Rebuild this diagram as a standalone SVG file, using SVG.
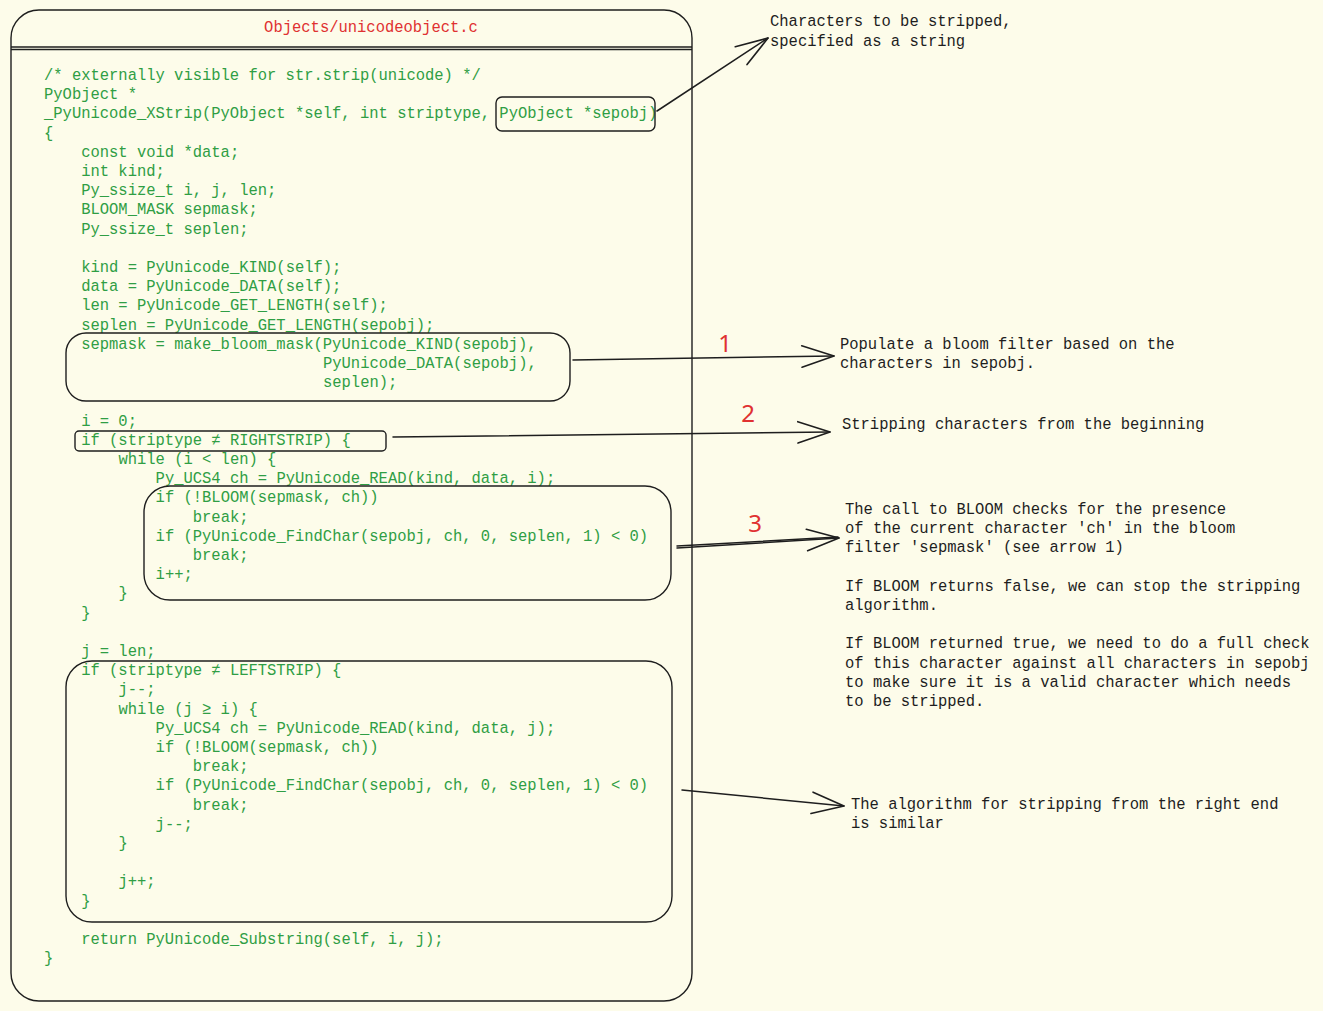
<svg xmlns="http://www.w3.org/2000/svg" width="1323" height="1011" viewBox="0 0 1323 1011">
<style>
.code{font-family:"Liberation Mono","DejaVu Sans Mono",monospace;font-size:17px;fill:#2f9e44;white-space:pre}
.note{font-family:"Liberation Mono","DejaVu Sans Mono",monospace;font-size:17px;fill:#1e1e1e;white-space:pre}
.title{font-family:"Liberation Mono","DejaVu Sans Mono",monospace;font-size:17px;fill:#e03131}
.num{font-family:"Noto Sans","Liberation Sans",sans-serif;font-size:24px;fill:#e03131}
.box{fill:none;stroke:#1e1e1e;stroke-width:1.4}
.conn{fill:none;stroke:#1e1e1e;stroke-width:1.5;stroke-linecap:round}
</style>
<defs>
<marker id="open" markerUnits="userSpaceOnUse" markerWidth="40" markerHeight="30" viewBox="-32 -14 36 28" refX="0" refY="0" orient="auto">
<path d="M-30,-10 L0,0 L-30,10" fill="none" stroke="#1e1e1e" stroke-width="1.5" stroke-linecap="round" stroke-linejoin="round"/>
</marker>
</defs>
<rect width="1323" height="1011" fill="#fdfcea"/>

<g id="file-box">
<rect class="box" x="11" y="10" width="681" height="991" rx="28"/>
<line class="box" x1="11" y1="47" x2="692" y2="47"/>
<line class="box" x1="11" y1="49.5" x2="692" y2="49.5" stroke-width="0.8"/>
<text class="title" transform="scale(0.912 1)" x="406.8" y="32" text-anchor="middle">Objects/unicodeobject.c</text>
</g>

<g id="code" transform="scale(0.912 1)">
<text class="code" x="48.25" y="80">/* externally visible for str.strip(unicode) */</text>
<text class="code" x="48.25" y="99.2">PyObject *</text>
<text class="code" x="48.25" y="118.4">_PyUnicode_XStrip(PyObject *self, int striptype, PyObject *sepobj)</text>
<text class="code" x="48.25" y="137.6">{</text>
<text class="code" x="89.04" y="156.8">const void *data;</text>
<text class="code" x="89.04" y="176">int kind;</text>
<text class="code" x="89.04" y="195.2">Py_ssize_t i, j, len;</text>
<text class="code" x="89.04" y="214.4">BLOOM_MASK sepmask;</text>
<text class="code" x="89.04" y="233.6">Py_ssize_t seplen;</text>
<text class="code" x="89.04" y="272">kind = PyUnicode_KIND(self);</text>
<text class="code" x="89.04" y="291.2">data = PyUnicode_DATA(self);</text>
<text class="code" x="89.04" y="310.4">len = PyUnicode_GET_LENGTH(self);</text>
<text class="code" x="89.04" y="329.6">seplen = PyUnicode_GET_LENGTH(sepobj);</text>
<text class="code" x="89.04" y="348.8">sepmask = make_bloom_mask(PyUnicode_KIND(sepobj),</text>
<text class="code" x="354.17" y="368">PyUnicode_DATA(sepobj),</text>
<text class="code" x="354.17" y="387.2">seplen);</text>
<text class="code" x="89.04" y="425.6">i = 0;</text>
<text class="code" x="89.04" y="444.8">if (striptype ≠ RIGHTSTRIP) {</text>
<text class="code" x="129.82" y="464">while (i &lt; len) {</text>
<text class="code" x="170.61" y="483.2">Py_UCS4 ch = PyUnicode_READ(kind, data, i);</text>
<text class="code" x="170.61" y="502.4">if (!BLOOM(sepmask, ch))</text>
<text class="code" x="211.4" y="521.6">break;</text>
<text class="code" x="170.61" y="540.8">if (PyUnicode_FindChar(sepobj, ch, 0, seplen, 1) &lt; 0)</text>
<text class="code" x="211.4" y="560">break;</text>
<text class="code" x="170.61" y="579.2">i++;</text>
<text class="code" x="129.82" y="598.4">}</text>
<text class="code" x="89.04" y="617.6">}</text>
<text class="code" x="89.04" y="656">j = len;</text>
<text class="code" x="89.04" y="675.2">if (striptype ≠ LEFTSTRIP) {</text>
<text class="code" x="129.82" y="694.4">j--;</text>
<text class="code" x="129.82" y="713.6">while (j ≥ i) {</text>
<text class="code" x="170.61" y="732.8">Py_UCS4 ch = PyUnicode_READ(kind, data, j);</text>
<text class="code" x="170.61" y="752">if (!BLOOM(sepmask, ch))</text>
<text class="code" x="211.4" y="771.2">break;</text>
<text class="code" x="170.61" y="790.4">if (PyUnicode_FindChar(sepobj, ch, 0, seplen, 1) &lt; 0)</text>
<text class="code" x="211.4" y="809.6">break;</text>
<text class="code" x="170.61" y="828.8">j--;</text>
<text class="code" x="129.82" y="848">}</text>
<text class="code" x="129.82" y="886.4">j++;</text>
<text class="code" x="89.04" y="905.6">}</text>
<text class="code" x="89.04" y="944">return PyUnicode_Substring(self, i, j);</text>
<text class="code" x="48.25" y="963.2">}</text>
</g>

<g id="highlight-sepobj"><rect class="box" x="496" y="97" width="159" height="34" rx="6"/></g>
<g id="highlight-bloom-mask"><rect class="box" x="66" y="333" width="504" height="68" rx="20"/></g>
<g id="highlight-rightstrip"><rect class="box" x="75" y="431" width="311" height="20" rx="4"/></g>
<g id="highlight-left-loop"><rect class="box" x="144" y="486" width="527" height="114" rx="26"/></g>
<g id="highlight-leftstrip"><rect class="box" x="66" y="661" width="606" height="261" rx="26"/></g>

<g id="connectors">
<path class="conn" d="M657,111 L768,38" marker-end="url(#open)"/>
<path class="conn" d="M573,360 L834,356" marker-end="url(#open)"/>
<path class="conn" d="M393,437 L830,432" marker-end="url(#open)"/>
<path class="conn" d="M677,548 L839,538" marker-end="url(#open)"/>
<path class="conn" d="M677,546 L838,537" stroke-width="0.8"/>
<path class="conn" d="M682,790 L844,806" marker-end="url(#open)"/>
<text class="num" x="725" y="352" text-anchor="middle">1</text>
<text class="num" x="748" y="422" text-anchor="middle">2</text>
<text class="num" x="755" y="532" text-anchor="middle">3</text>
</g>

<g id="notes" transform="scale(0.912 1)">
<g id="note-sepobj">
<text class="note" x="844.3" y="26">Characters to be stripped,</text>
<text class="note" x="844.3" y="46">specified as a string</text>
</g>
<g id="note-bloom">
<text class="note" x="921.05" y="349">Populate a bloom filter based on the</text>
<text class="note" x="921.05" y="368">characters in sepobj.</text>
</g>
<g id="note-begin">
<text class="note" x="923.25" y="429">Stripping characters from the beginning</text>
</g>
<g id="note-check">
<text class="note" x="926.54" y="514">The call to BLOOM checks for the presence</text>
<text class="note" x="926.54" y="533.2">of the current character 'ch' in the bloom</text>
<text class="note" x="926.54" y="552.4">filter 'sepmask' (see arrow 1)</text>
<text class="note" x="926.54" y="590.8">If BLOOM returns false, we can stop the stripping</text>
<text class="note" x="926.54" y="610">algorithm.</text>
<text class="note" x="926.54" y="648.4">If BLOOM returned true, we need to do a full check</text>
<text class="note" x="926.54" y="667.6">of this character against all characters in sepobj</text>
<text class="note" x="926.54" y="686.8">to make sure it is a valid character which needs</text>
<text class="note" x="926.54" y="706">to be stripped.</text>
</g>
<g id="note-right">
<text class="note" x="933.11" y="809">The algorithm for stripping from the right end</text>
<text class="note" x="933.11" y="828">is similar</text>
</g>
</g>
</svg>
